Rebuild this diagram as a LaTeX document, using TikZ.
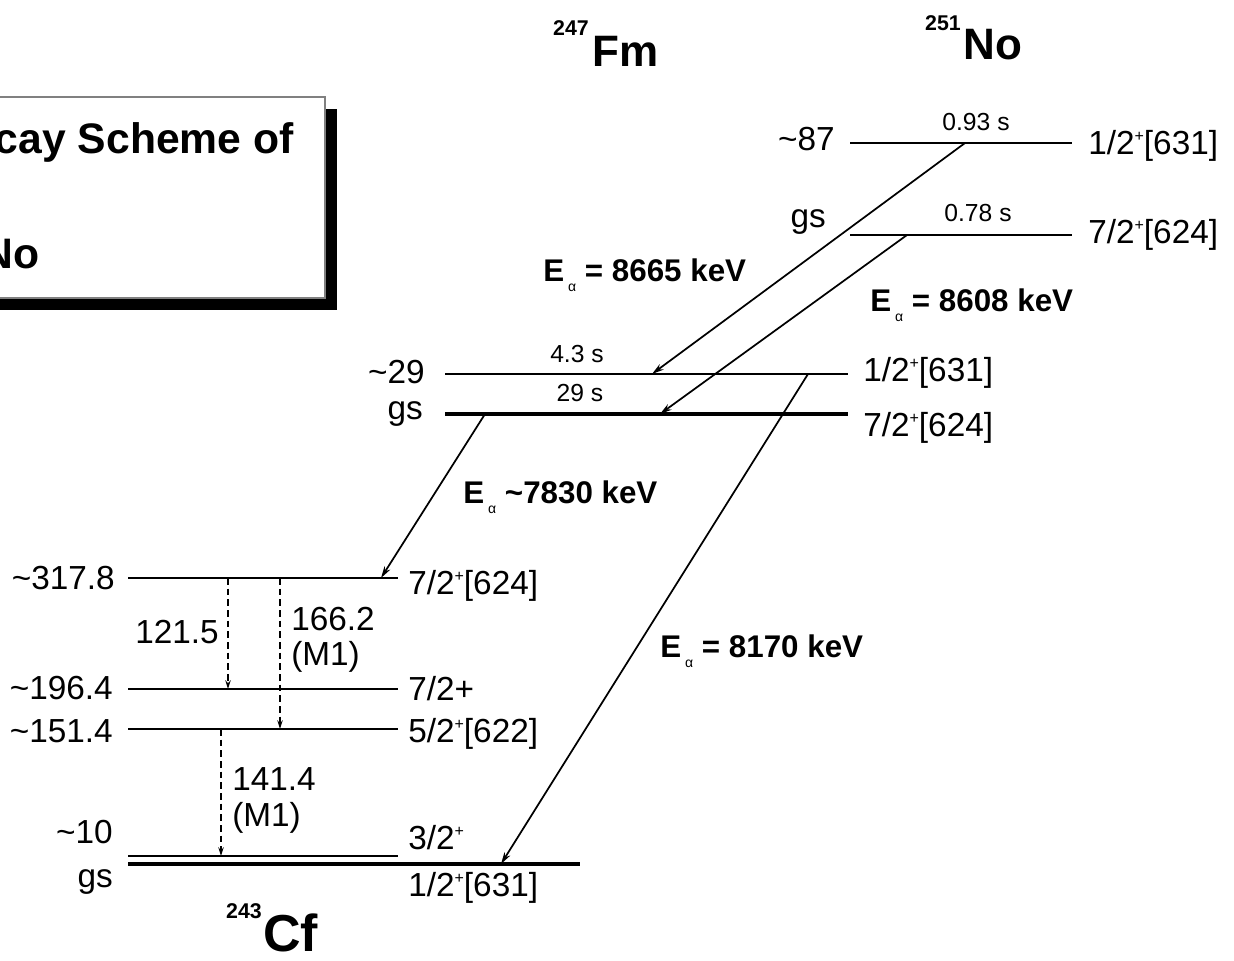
\documentclass[tikz,border=0pt]{standalone}
\usepackage{fontspec}
\setmainfont{Liberation Sans}
\usetikzlibrary{arrows.meta}
\newcommand\pp{\raisebox{10pt}{\fontsize{12}{12}\selectfont +}}
\newcommand\Ealpha{E\hspace{3pt}\raisebox{-8pt}{\fontsize{10.5}{10.5}\selectfont\mdseries α}}
\begin{document}
\begin{tikzpicture}[x=0.75pt,y=-0.75pt,
  lvl/.style={line width=1.1pt},
  lvlmid/.style={line width=1.3pt},
  lvlthick/.style={line width=2.8pt},
  lab/.style={font=\fontsize{25}{29}\selectfont, inner sep=0pt},
  hl/.style={font=\fontsize{18.5}{22}\selectfont, inner sep=0pt},
  elab/.style={font=\fontsize{23.5}{28}\selectfont\bfseries, inner sep=0pt, anchor=base west},
  alphatr/.style={-{Stealth[length=9pt,width=5pt]}, line width=1.3pt},
  gam/.style={-{Stealth[length=6.5pt,width=4pt]}, line width=1.2pt, dash pattern=on 5pt off 3pt},
  nuc/.style={inner sep=0pt},
]
\useasboundingbox (0,0) rectangle (1234,960);
\clip (0,0) rectangle (1234,960);

% title box
\fill[black] (-30,109) rectangle (337,310);
\draw[draw=gray, fill=white, line width=1pt] (-30,97) rectangle (325,298);
\node[font=\fontsize{32}{35}\selectfont\bfseries, inner sep=0pt, anchor=base east] (t1) at (294,153) {Decay Scheme of};
\node[font=\fontsize{32}{35}\selectfont\bfseries, inner sep=0pt, anchor=base east] (t2) at (40,268) {No};

% nuclide headers
\node[nuc, anchor=base east, font=\fontsize{16}{18}\selectfont\bfseries] (fmA) at (589,36) {247};
\node[nuc, anchor=base west, font=\fontsize{33}{38}\selectfont\bfseries] (fmS) at (592,66) {Fm};
\node[nuc, anchor=base east, font=\fontsize{16}{18}\selectfont\bfseries] (noA) at (961,30) {251};
\node[nuc, anchor=base west, font=\fontsize{33}{38}\selectfont\bfseries] (noS) at (963,59) {No};
\node[nuc, anchor=base east, font=\fontsize{16}{18}\selectfont\bfseries] (cfA) at (262,918) {243};
\node[nuc, anchor=base west, font=\fontsize{39}{42}\selectfont\bfseries] (cfS) at (263,951) {Cf};

% 251No levels
\coordinate (n87L) at (850,143); \coordinate (n87R) at (1072,143);
\coordinate (ngsL) at (850,235); \coordinate (ngsR) at (1072,235);
\draw[lvlmid] (n87L) -- (n87R);
\draw[lvlmid] (ngsL) -- (ngsR);
\node[lab, anchor=east] (l87) at (835,139) {\textasciitilde 87};
\node[lab, anchor=west] (r87) at (1088,146) {1/2\pp[631]};
\node[hl] (h87) at (976,122) {0.93 s};
\node[lab, anchor=east] (lngs) at (826,222) {gs};
\node[lab, anchor=west] (rngs) at (1088,235) {7/2\pp[624]};
\node[hl] (hngs) at (978,213) {0.78 s};

% 247Fm levels
\coordinate (f29L) at (445,374); \coordinate (f29R) at (848,374);
\coordinate (fgsL) at (445,414); \coordinate (fgsR) at (848,414);
\draw[lvl] (f29L) -- (f29R);
\draw[lvlthick] (fgsL) -- (fgsR);
\node[lab, anchor=east] (l29) at (425,372) {\textasciitilde 29};
\node[lab, anchor=west] (r29) at (863,373) {1/2\pp[631]};
\node[hl] (h29) at (577,354) {4.3 s};
\node[lab, anchor=east] (lfgs) at (423,414) {gs};
\node[lab, anchor=west] (rfgs) at (863,428) {7/2\pp[624]};
\node[hl] (hfgs) at (580,393) {29 s};

% 243Cf levels
\coordinate (c317L) at (128,578); \coordinate (c317R) at (398,578);
\coordinate (c196L) at (128,689); \coordinate (c196R) at (398,689);
\coordinate (c151L) at (128,729); \coordinate (c151R) at (398,729);
\coordinate (c10L) at (128,856); \coordinate (c10R) at (398,856);
\coordinate (cgsL) at (128,864); \coordinate (cgsR) at (580,864);
\draw[lvl] (c317L) -- (c317R);
\draw[lvl] (c196L) -- (c196R);
\draw[lvl] (c151L) -- (c151R);
\draw[lvl] (c10L) -- (c10R);
\draw[lvlthick] (cgsL) -- (cgsR);
\node[lab, anchor=east] (l317) at (115,578) {\textasciitilde 317.8};
\node[lab, anchor=west] (r317) at (408,586) {7/2\pp[624]};
\node[lab, anchor=east] (l196) at (113,688) {\textasciitilde 196.4};
\node[lab, anchor=west] (r196) at (408,689) {7/2+};
\node[lab, anchor=east] (l151) at (113,731) {\textasciitilde 151.4};
\node[lab, anchor=west] (r151) at (408,734) {5/2\pp[622]};
\node[lab, anchor=east] (l10) at (113,832) {\textasciitilde 10};
\node[lab, anchor=west] (r10) at (408,838) {3/2\pp};
\node[lab, anchor=east] (lcgs) at (113,882) {gs};
\node[lab, anchor=west] (rcgs) at (408,888) {1/2\pp[631]};

% alpha transitions
\coordinate (a1s) at (965,143); \coordinate (a1e) at (652,374);
\coordinate (a2s) at (907,235); \coordinate (a2e) at (660,414);
\coordinate (a3s) at (485,414); \coordinate (a3e) at (381,578);
\coordinate (a4s) at (808,374); \coordinate (a4e) at (501,864);
\draw[alphatr] (a1s) -- (a1e);
\draw[alphatr] (a2s) -- (a2e);
\draw[alphatr] (a3s) -- (a3e);
\draw[alphatr] (a4s) -- (a4e);
\node[elab] (e1) at (543,281) {\Ealpha\ = 8665 keV};
\node[elab] (e2) at (870,311) {\Ealpha\ = 8608 keV};
\node[elab] (e3) at (463,503) {\Ealpha\ \textasciitilde 7830 keV};
\node[elab] (e4) at (660,657) {\Ealpha\ = 8170 keV};

% gamma transitions
\coordinate (g1s) at (228,578); \coordinate (g1e) at (228,689);
\coordinate (g2s) at (280,578); \coordinate (g2e) at (280,729);
\coordinate (g3s) at (221,729); \coordinate (g3e) at (221,856);
\draw[gam] (g1s) -- (g1e);
\draw[gam] (g2s) -- (g2e);
\draw[gam] (g3s) -- (g3e);
\node[lab, anchor=east] (gl1) at (219,632) {121.5};
\node[lab, anchor=west] (gl2a) at (291,619) {166.2};
\node[lab, anchor=west] (gl2b) at (291,657) {(M1)};
\node[lab, anchor=west] (gl3a) at (232,779) {141.4};
\node[lab, anchor=west] (gl3b) at (232,818) {(M1)};
\end{tikzpicture}
\end{document}
